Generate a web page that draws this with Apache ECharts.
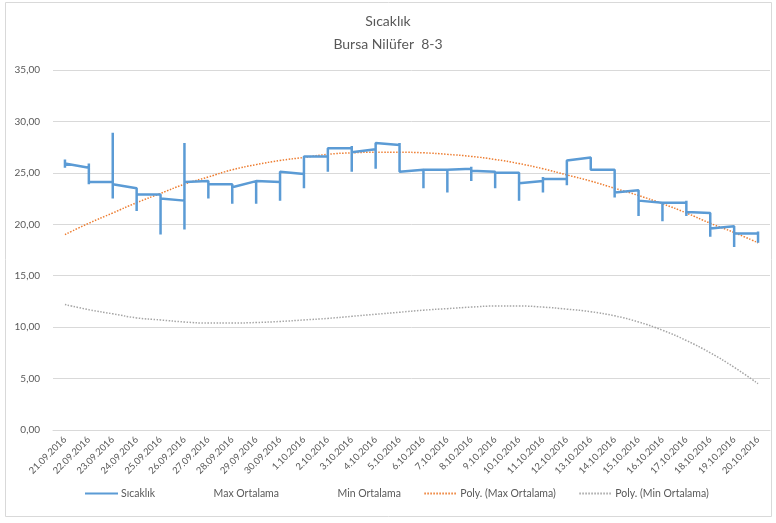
<!DOCTYPE html>
<html>
<head>
<meta charset="utf-8">
<script src="https://cdn.jsdelivr.net/npm/echarts@6/dist/echarts.min.js"></script>
<style>
  html, body { margin: 0; padding: 0; background: #fff; }
  #chart { width: 776px; height: 523px; }
</style>
</head>
<body>
<div id="chart"></div>
<script>
var days = ['21.09.2016','22.09.2016','23.09.2016','24.09.2016','25.09.2016','26.09.2016','27.09.2016','28.09.2016','29.09.2016','30.09.2016',
	'1.10.2016','2.10.2016','3.10.2016','4.10.2016','5.10.2016','6.10.2016','7.10.2016','8.10.2016','9.10.2016','10.10.2016',
	'11.10.2016','12.10.2016','13.10.2016','14.10.2016','15.10.2016','16.10.2016','17.10.2016','18.10.2016','19.10.2016','20.10.2016'];

// Sıcaklık: several readings per day -> first, highest, lowest, last reading of each day
var dayFirst = [25.9,25.5,24.1,23.5,22.9,22.3,24.2,23.9,24.2,24.1,24.9,26.6,27.4,27.3,27.7,25.3,25.3,25.4,25.1,25.0,24.2,24.4,26.5,25.3,23.3,22.1,22.1,21.1,19.8,19.1];
var dayHigh  = [26.3,25.9,28.9,23.5,22.9,27.9,24.2,23.9,24.3,25.1,26.6,27.4,27.6,27.9,27.9,25.3,25.3,25.6,25.1,25.0,24.6,26.2,26.5,25.4,23.3,22.1,22.3,21.1,19.8,19.3];
var dayLow   = [25.5,23.9,22.5,21.3,19.0,19.5,22.5,22.0,22.0,22.3,23.5,25.1,25.1,25.4,25.1,23.5,23.1,24.2,23.5,22.3,23.1,23.8,25.3,22.6,20.8,20.3,20.8,18.8,17.8,18.2];
var dayLast  = [25.9,24.1,23.9,22.9,22.5,24.1,23.9,23.6,24.2,25.1,26.6,27.4,27.0,27.9,25.1,25.3,25.3,25.2,25.0,24.0,24.4,26.2,25.3,23.1,22.3,22.1,21.2,19.6,19.1,19.1];

// polynomial trend lines
var maxTrend = [19.0,20.1,21.1,22.1,23.0,23.9,24.6,25.3,25.8,26.2,26.5,26.8,26.95,27.0,27.0,26.95,26.8,26.6,26.3,25.9,25.4,24.8,24.2,23.5,22.8,22.0,21.1,20.1,19.2,18.2];
var minTrend = [12.2,11.7,11.3,10.9,10.7,10.5,10.4,10.4,10.45,10.55,10.7,10.85,11.05,11.25,11.45,11.65,11.8,11.95,12.05,12.05,11.95,11.75,11.5,11.1,10.5,9.7,8.7,7.5,6.1,4.5];

var yTicks = [0, 35, 5];

var sicaklik = [];
for (var i = 0; i < days.length; i++) {
	sicaklik.push([i, dayFirst[i]], [i, dayHigh[i]], [i, dayLow[i]], [i, dayLast[i]]);
}

var font = 'Lato';
var txt = '#595959';

var myChart = echarts.init(document.getElementById('chart'), null, {renderer: 'canvas'});
var option = {
	backgroundColor: '#fff',
	animation: false,
	textStyle: { fontFamily: font },
	title: {
		text: 'Sıcaklık\nBursa Nilüfer  8-3',
		left: 'center',
		top: 5,
		textStyle: { fontSize: 14, fontWeight: 'normal', color: txt, lineHeight: 23, fontFamily: font }
	},
	graphic: [{
		type: 'rect',
		shape: { x: 5.5, y: 2.5, width: 766, height: 514 },
		style: { fill: 'none', stroke: '#D9D9D9', lineWidth: 1 },
		silent: true
	}],
	grid: { left: 53, right: 6, top: 70, bottom: 93 },
	legend: {
		left: 79,
		top: 483,
		itemWidth: 33,
		itemHeight: 10,
		itemGap: 22.5,
		itemStyle: { opacity: 0 },
		textStyle: { fontSize: 10.5, color: txt, fontFamily: font, padding: [0, 0, 0, -2] },
		data: [
			{ name: 'Sıcaklık' },
			{ name: 'Max Ortalama', icon: 'none' },
			{ name: 'Min Ortalama', icon: 'none' },
			{ name: 'Poly. (Max Ortalama)' },
			{ name: 'Poly. (Min Ortalama)' }
		]
	},
	xAxis: {
		type: 'category',
		data: days,
		boundaryGap: true,
		axisTick: { show: false },
		axisLine: { lineStyle: { color: '#D9D9D9' } },
		axisLabel: { rotate: 45, interval: 0, fontSize: 9.5, color: txt, margin: 8, fontFamily: font }
	},
	yAxis: {
		type: 'value',
		min: yTicks[0],
		max: yTicks[1],
		interval: yTicks[2],
		axisLine: { show: false },
		axisTick: { show: false },
		splitLine: { lineStyle: { color: '#D9D9D9' } },
		axisLabel: {
			fontSize: 10, color: txt, margin: 13, fontFamily: font,
			formatter: function (v) { return v.toFixed(2).replace('.', ','); }
		}
	},
	series: [{
		name: 'Sıcaklık',
		type: 'line',
		data: sicaklik,
		symbol: 'none',
		color: '#5B9BD5',
		lineStyle: { color: '#5B9BD5', width: 2.5 },
		z: 3
	}, {
		// invisible series, only shown in the legend
		name: 'Max Ortalama',
		type: 'line',
		data: [],
		symbol: 'none',
		lineStyle: { opacity: 0 }
	}, {
		name: 'Min Ortalama',
		type: 'line',
		data: [],
		symbol: 'none',
		lineStyle: { opacity: 0 }
	}, {
		name: 'Poly. (Max Ortalama)',
		type: 'line',
		data: maxTrend,
		smooth: true,
		symbol: 'none',
		color: '#ED7D31',
		lineStyle: { color: '#ED7D31', width: 1.5, type: [1.5, 1.5] },
		z: 2
	}, {
		name: 'Poly. (Min Ortalama)',
		type: 'line',
		data: minTrend,
		smooth: true,
		symbol: 'none',
		color: '#A5A5A5',
		lineStyle: { color: '#A5A5A5', width: 1.5, type: [1.5, 1.5] },
		z: 2
	}]
};
myChart.setOption(option, true);
</script>
</body>
</html>
